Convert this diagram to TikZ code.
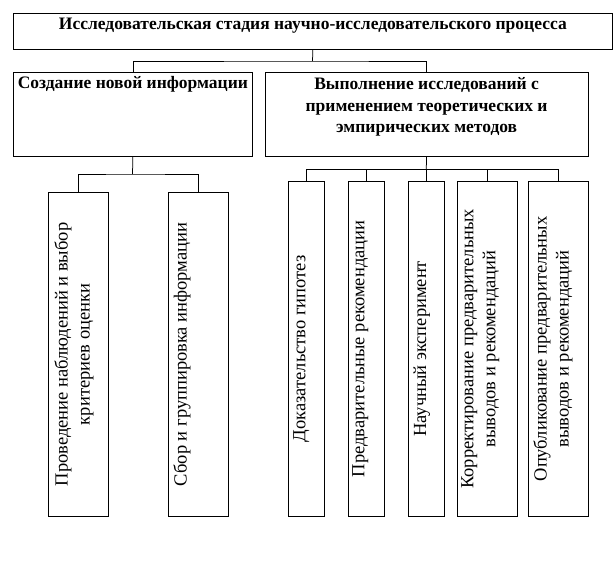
\documentclass[tikz,border=0pt]{standalone}
\usepackage{fontspec}
\setmainfont{Liberation Serif}
\usepackage{tikz}
\tikzset{every picture/.style={line width=0.75pt}}
\tikzset{
  boxnode/.style={draw, rectangle, inner sep=0pt, anchor=north west},
  headtext/.style={anchor=north, inner sep=0pt, align=center, font=\fontsize{17.5}{21.7}\selectfont\bfseries},
  vtext/.style={anchor=north, inner sep=0pt, align=center, rotate=90, font=\fontsize{18.5}{22}\selectfont}
}

\begin{document}
\begin{tikzpicture}[x=1pt,y=1pt,yscale=-1,xscale=1]
\useasboundingbox (0,0) rectangle (615,576);

%Shape: Rectangle [top]
\node[boxnode, minimum width=599pt, minimum height=36pt] (stage) at (13,13) {};
\node[headtext] (stagetext) at ([yshift=4.6pt]stage.north) {Исследовательская стадия научно-исследовательского процесса};

%Shape: Rectangle [second level]
\node[boxnode, minimum width=239pt, minimum height=84pt] (create) at (13,72) {};
\node[headtext] (createtext) at ([yshift=4pt]create.north) {Создание новой информации};
\node[boxnode, minimum width=323.5pt, minimum height=84pt] (research) at (264.5,72) {};
\node[headtext] (researchtext) at ([yshift=5pt]research.north) {Выполнение исследований с\\применением теоретических и\\эмпирических методов};

%Shape: Rectangle [left branch]
\node[boxnode, minimum width=60pt, minimum height=324pt] (obs) at (48,192) {};
\node[vtext] (obstext) at ([xshift=6pt]obs.west) {Проведение наблюдений и выбор\\критериев оценки};
\node[boxnode, minimum width=60pt, minimum height=324pt] (coll) at (168,192) {};
\node[vtext] (colltext) at ([xshift=5pt]coll.west) {Сбор и группировка информации};

%Shape: Rectangle [right branch]
\node[boxnode, minimum width=36pt, minimum height=335pt] (hyp) at (288,181) {};
\node[vtext] (hyptext) at ([xshift=5pt]hyp.west) {Доказательство гипотез};
\node[boxnode, minimum width=36pt, minimum height=335pt] (rec) at (348,181) {};
\node[vtext] (rectext) at ([xshift=4pt]rec.west) {Предварительные рекомендации};
\node[boxnode, minimum width=36pt, minimum height=335pt] (exp) at (408,181) {};
\node[vtext] (exptext) at ([xshift=5pt]exp.west) {Научный эксперимент};
\node[boxnode, minimum width=60pt, minimum height=335pt] (cor) at (457,181) {};
\node[vtext] (cortext) at ([xshift=4pt]cor.west) {Корректирование предварительных\\выводов и рекомендаций};
\node[boxnode, minimum width=60pt, minimum height=335pt] (pub) at (528,181) {};
\node[vtext] (pubtext) at ([xshift=5pt]pub.west) {Опубликование предварительных\\выводов и рекомендаций};

%Straight Lines [connectors]
\coordinate (j1) at (312.5,61);
\coordinate (j2) at (132.5,174);
\coordinate (j3) at (426.25,169);
\draw (stage.south) -- (j1);
\draw (create.north) |- (j1) -| (research.north);
\draw (create.south) -- (j2);
\draw (obs.north) |- (j2) -| (coll.north);
\draw (research.south) -- (j3);
\foreach \n in {hyp,rec,exp,cor,pub}
  \draw (j3) -| (\n.north);
\end{tikzpicture}
\end{document}
